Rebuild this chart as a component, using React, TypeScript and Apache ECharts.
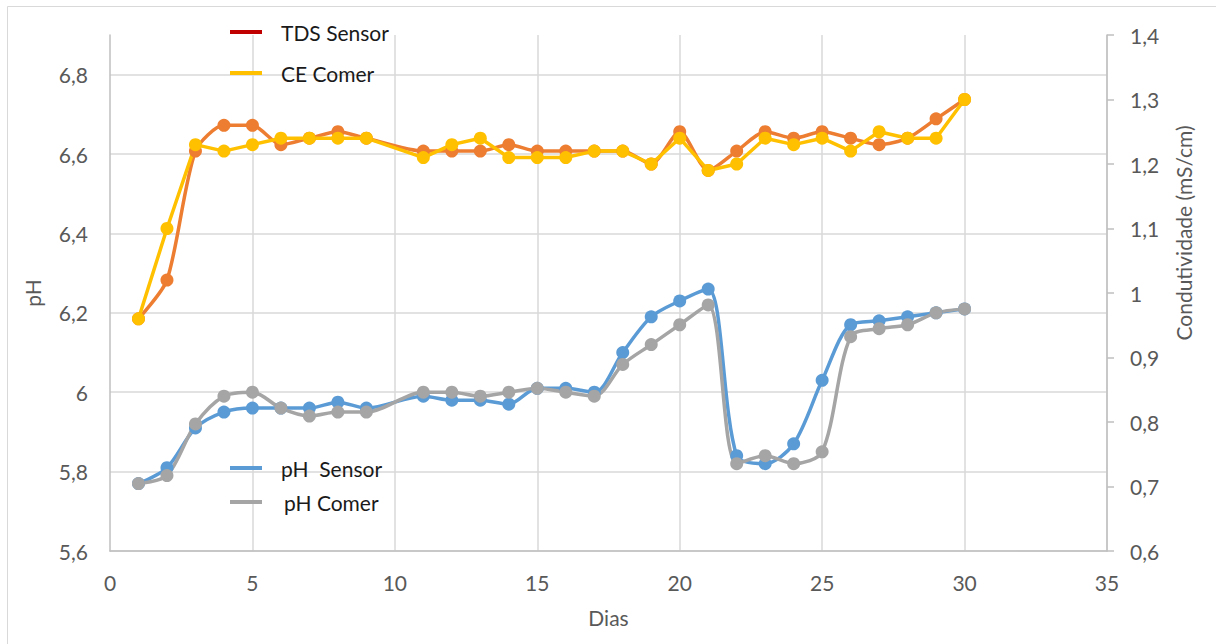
import React, { useEffect, useRef } from "react";
import * as echarts from "echarts";

// Measurement days (no reading on day 10)
const days = [1, 2, 3, 4, 5, 6, 7, 8, 9, 11, 12, 13, 14, 15, 16, 17, 18, 19, 20, 21, 22, 23, 24, 25, 26, 27, 28, 29, 30];

// Conductivity, mS/cm (right axis)
const tdsSensor = [0.96, 1.02, 1.22, 1.26, 1.26, 1.23, 1.24, 1.25, 1.24, 1.22, 1.22, 1.22, 1.23, 1.22, 1.22, 1.22, 1.22, 1.2, 1.25, 1.19, 1.22, 1.25, 1.24, 1.25, 1.24, 1.23, 1.24, 1.27, 1.3];
const ceComer = [0.96, 1.1, 1.23, 1.22, 1.23, 1.24, 1.24, 1.24, 1.24, 1.21, 1.23, 1.24, 1.21, 1.21, 1.21, 1.22, 1.22, 1.2, 1.24, 1.19, 1.2, 1.24, 1.23, 1.24, 1.22, 1.25, 1.24, 1.24, 1.3];

// pH (left axis)
const phSensor = [5.77, 5.81, 5.91, 5.95, 5.96, 5.96, 5.96, 5.975, 5.96, 5.99, 5.98, 5.98, 5.97, 6.01, 6.01, 6.0, 6.1, 6.19, 6.23, 6.26, 5.84, 5.82, 5.87, 6.03, 6.17, 6.18, 6.19, 6.2, 6.21];
const phComer = [5.77, 5.79, 5.92, 5.99, 6.0, 5.96, 5.94, 5.95, 5.95, 6.0, 6.0, 5.99, 6.0, 6.01, 6.0, 5.99, 6.07, 6.12, 6.17, 6.22, 5.82, 5.84, 5.82, 5.85, 6.14, 6.16, 6.17, 6.2, 6.21];

// Axis ranges
const dayRange = { min: 0, max: 35, step: 5 };
const phRange = { min: 5.6, max: 6.9, step: 0.2 };
const condRange = { min: 0.6, max: 1.4, step: 0.1 };

const FONT = "Lato, 'Open Sans', sans-serif";
const LABEL_COLOR = "#595959";
const AXIS_COLOR = "#bfbfbf";
const GRID_COLOR = "#d9d9d9";

const comma = (v: number) => String(parseFloat(v.toFixed(2))).replace(".", ",");
const pairs = (ys: number[]) => days.map((d, i) => [d, ys[i]]);

export default function App() {
  const ref = useRef<HTMLDivElement>(null);

  useEffect(() => {
    if (!ref.current) return;
    const chart = echarts.init(ref.current, undefined, { renderer: "svg" });

    const legendBase = {
      orient: "vertical",
      icon: "rect",
      itemWidth: 32,
      itemHeight: 4,
      padding: 0,
      selectedMode: false,
      textStyle: { fontFamily: FONT, fontSize: 21, color: "#1a1a1a", lineHeight: 24, padding: [0, 0, 0, 14] },
    };

    const lineSeries = (name: string, ys: number[], color: string, axis: number, smooth: number | boolean) => ({
      name,
      type: "line",
      yAxisIndex: axis,
      data: pairs(ys),
      smooth,
      symbol: "circle",
      symbolSize: 13,
      showSymbol: true,
      lineStyle: { color, width: 3.5 },
      itemStyle: { color },
      emphasis: { disabled: true },
    });

    chart.setOption({
      animation: false,
      backgroundColor: "#ffffff",
      grid: { left: 110, right: 109, top: 35, bottom: 93, containLabel: false },
      graphic: [
        {
          type: "rect",
          silent: true,
          shape: { x: 7.5, y: 6.5, width: 1300, height: 700 },
          style: { fill: "none", stroke: GRID_COLOR, lineWidth: 1 },
        },
      ],
      legend: [
        { ...legendBase, left: 230, top: 20, data: [{ name: "TDS Sensor", itemStyle: { color: "#c00000" } }] },
        { ...legendBase, left: 230, top: 61, data: ["CE Comer"] },
        { ...legendBase, left: 230, top: 456, data: ["pH  Sensor"] },
        {
          ...legendBase,
          left: 230,
          top: 490,
          data: ["pH Comer"],
          textStyle: { ...legendBase.textStyle, padding: [0, 0, 0, 17] },
        },
      ],
      xAxis: {
        type: "value",
        min: dayRange.min,
        max: dayRange.max,
        interval: dayRange.step,
        name: "Dias",
        nameLocation: "middle",
        nameGap: 56,
        nameTextStyle: { fontFamily: FONT, fontSize: 21, color: LABEL_COLOR },
        axisLine: { show: true, lineStyle: { color: AXIS_COLOR, width: 1.5 } },
        axisTick: { show: false },
        axisLabel: { fontFamily: FONT, fontSize: 21, color: LABEL_COLOR, margin: 21 },
        splitLine: { show: true, showMinLine: false, lineStyle: { color: GRID_COLOR, width: 1.5 } },
      },
      yAxis: [
        {
          type: "value",
          position: "left",
          min: phRange.min,
          max: phRange.max,
          interval: phRange.step,
          name: "pH",
          nameLocation: "middle",
          nameRotate: 90,
          nameGap: 67,
          nameTextStyle: { fontFamily: FONT, fontSize: 21, color: LABEL_COLOR },
          axisLine: { show: true, lineStyle: { color: AXIS_COLOR, width: 1.5 } },
          axisTick: { show: false },
          axisLabel: {
            fontFamily: FONT,
            fontSize: 21,
            color: LABEL_COLOR,
            margin: 22,
            showMaxLabel: false,
            formatter: (v: number) => comma(v),
          },
          splitLine: { show: true, showMaxLine: false, lineStyle: { color: GRID_COLOR, width: 1.5 } },
        },
        {
          type: "value",
          position: "right",
          min: condRange.min,
          max: condRange.max,
          interval: condRange.step,
          name: "Condutividade (mS/cm)",
          nameLocation: "middle",
          nameRotate: 90,
          nameGap: 66,
          nameTextStyle: { fontFamily: FONT, fontSize: 21, color: LABEL_COLOR, padding: [0, 0, 0, 120] },
          axisLine: { show: true, lineStyle: { color: AXIS_COLOR, width: 1.5 } },
          axisTick: { show: true, inside: false, length: 7, lineStyle: { color: AXIS_COLOR, width: 1.5 } },
          axisLabel: {
            fontFamily: FONT,
            fontSize: 21,
            color: LABEL_COLOR,
            margin: 23,
            formatter: (v: number) => comma(v),
          },
          splitLine: { show: false },
        },
      ],
      series: [
        lineSeries("pH  Sensor", phSensor, "#5b9bd5", 0, 0.3),
        lineSeries("pH Comer", phComer, "#a5a5a5", 0, 0.3),
        lineSeries("TDS Sensor", tdsSensor, "#ed7d31", 1, 0.25),
        lineSeries("CE Comer", ceComer, "#ffc000", 1, false),
      ],
    });

    return () => chart.dispose();
  }, []);

  return (
    <div
      ref={ref}
      style={{ position: "fixed", left: 0, top: 0, width: 1216, height: 644, background: "#fff" }}
    />
  );
}
